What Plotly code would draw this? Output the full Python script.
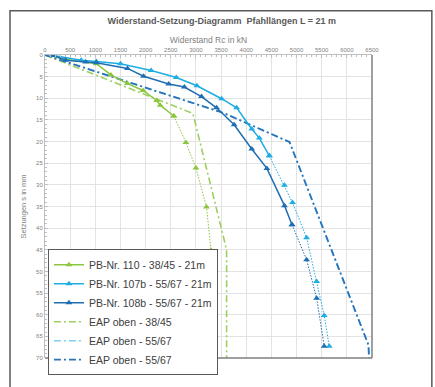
import plotly.graph_objects as go

# ---- data ----
r_110 = [150, 410, 1020, 1310, 1640, 1950, 2220, 2290, 2560, 2800, 3000, 3210, 3300]
s_110 = [0.2, 1.0, 2.0, 4.6, 6.6, 8.2, 10.5, 11.6, 14.1, 20.2, 26.1, 35.1, 45.1]
solid_110 = 9

r_107b = [160, 720, 1020, 1500, 2110, 2610, 3020, 3510, 3810, 4110, 4260, 4460,
          4760, 4920, 5200, 5400, 5550, 5650]
s_107b = [0.1, 1.2, 1.5, 2.0, 3.6, 5.2, 7.1, 10.1, 12.2, 17.1, 19.2, 23.3,
          30.1, 34.1, 42.2, 52.3, 60.2, 67.3]
solid_107b = 12

r_108b = [160, 410, 810, 1020, 1640, 1960, 2460, 2770, 3110, 3410, 3760, 4110,
          4410, 4760, 4910, 5200, 5400, 5550]
s_108b = [0.1, 1.2, 1.6, 1.8, 3.1, 4.9, 6.7, 7.4, 9.6, 12.2, 16.1, 21.7,
          26.2, 34.8, 39.2, 47.3, 56.2, 67.3]
solid_108b = 15

r_eap_3845 = [0, 2940, 3610, 3610]
s_eap_3845 = [0, 13.5, 45, 70]

r_eap_5567 = [0, 3550, 4860, 6430, 6440]
s_eap_5567 = [0, 13.4, 20.1, 67, 70]

x_ticks = list(range(0, 6501, 500))
y_ticks = list(range(0, 71, 5))

names = ["PB-Nr. 110 - 38/45 - 21m", "PB-Nr. 107b - 55/67 - 21m",
         "PB-Nr. 108b - 55/67 - 21m", "EAP oben - 38/45", "EAP oben - 55/67",
         "EAP oben - 55/67"]

c_green = "#8CC63F"
c_lblue = "#1CADE4"
c_dblue = "#1F6EB4"
c_eap_green = "#9BD060"
c_eap_lblue = "#7FD0F2"
c_eap_dblue = "#2A73B8"

fig = go.Figure()

# EAP curves
fig.add_trace(go.Scatter(x=r_eap_3845, y=s_eap_3845, mode="lines", name=names[3], legendrank=4,
                         line=dict(color=c_eap_green, width=1.6, dash="7px,3px,2px,3px")))
fig.add_trace(go.Scatter(x=r_eap_5567, y=s_eap_5567, mode="lines", name=names[4], legendrank=5,
                         line=dict(color=c_eap_lblue, width=1.6, dash="7px,3px,2px,3px")))
fig.add_trace(go.Scatter(x=r_eap_5567, y=s_eap_5567, mode="lines", name=names[5], legendrank=6,
                         line=dict(color=c_eap_dblue, width=1.8, dash="7px,3px,2px,3px")))

def measured(r, s, n, color, name, rank):
    fig.add_trace(go.Scatter(x=r[n - 1:], y=s[n - 1:], mode="lines+markers", showlegend=False,
                             line=dict(color=color, width=1, dash="1.5px,1.5px"),
                             marker=dict(symbol="triangle-up", size=6, color=color)))
    fig.add_trace(go.Scatter(x=r[:n], y=s[:n], mode="lines+markers", name=name, legendrank=rank,
                             line=dict(color=color, width=1.5),
                             marker=dict(symbol="triangle-up", size=6, color=color)))

measured(r_110, s_110, solid_110, c_green, names[0], 1)
measured(r_107b, s_107b, solid_107b, c_lblue, names[1], 2)
measured(r_108b, s_108b, solid_108b, c_dblue, names[2], 3)

fig.update_layout(
    width=435, height=387,
    margin=dict(l=45, r=63, t=55, b=12),
    paper_bgcolor="white", plot_bgcolor="white",
    font=dict(family="Liberation Sans, Arial, sans-serif", color="#7F7F7F"),
    title=dict(text="<b>Widerstand-Setzung-Diagramm  Pfahllängen L = 21 m</b>",
               x=0.51, xanchor="center", y=0.946, yanchor="middle",
               font=dict(size=9, color="#595959")),
    showlegend=True,
    legend=dict(x=0.009, y=0.359, xanchor="left", yanchor="top",
                bgcolor="white", bordercolor="#595959", borderwidth=1,
                font=dict(size=10.5, color="#404040"), itemwidth=30),
    xaxis=dict(range=[0, 6500], side="top", tickvals=x_ticks,
               tickfont=dict(size=6, color="#7F7F7F"),
               title=dict(text="Widerstand Rc in kN", font=dict(size=8.5, color="#7F7F7F"), standoff=1),
               showgrid=True, gridcolor="#E3E3E3", gridwidth=1,
               showline=True, linecolor="#BFBFBF", linewidth=1,
               ticks="inside", ticklen=3, tickcolor="#BFBFBF",
               minor=dict(dtick=100, ticks="inside", ticklen=2, tickcolor="#BFBFBF", showgrid=False),
               zeroline=False),
    yaxis=dict(range=[70, 0], tickvals=y_ticks,
               tickfont=dict(size=6, color="#7F7F7F"),
               title=dict(text="Setzungen s in mm", font=dict(size=7.5, color="#7F7F7F"), standoff=8),
               showgrid=True, gridcolor="#E3E3E3", gridwidth=1,
               showline=True, linecolor="#BFBFBF", linewidth=1,
               ticks="inside", ticklen=3, tickcolor="#BFBFBF",
               minor=dict(dtick=1, ticks="inside", ticklen=2, tickcolor="#BFBFBF", showgrid=False),
               zeroline=False),
    shapes=[
        dict(type="line", xref="paper", yref="paper", x0=1, x1=1, y0=0, y1=1,
             line=dict(color="#7F7F7F", width=1.5)),
        dict(type="line", xref="paper", yref="paper", x0=0, x1=1, y0=0, y1=0,
             line=dict(color="#7F7F7F", width=1.5)),
        dict(type="rect", xref="paper", yref="paper", x0=-0.107, x1=1.183, y0=-0.12, y1=1.146,
             line=dict(color="#595959", width=1.5), fillcolor="rgba(0,0,0,0)", layer="below"),
    ],
)

fig.write_html("out.html")
